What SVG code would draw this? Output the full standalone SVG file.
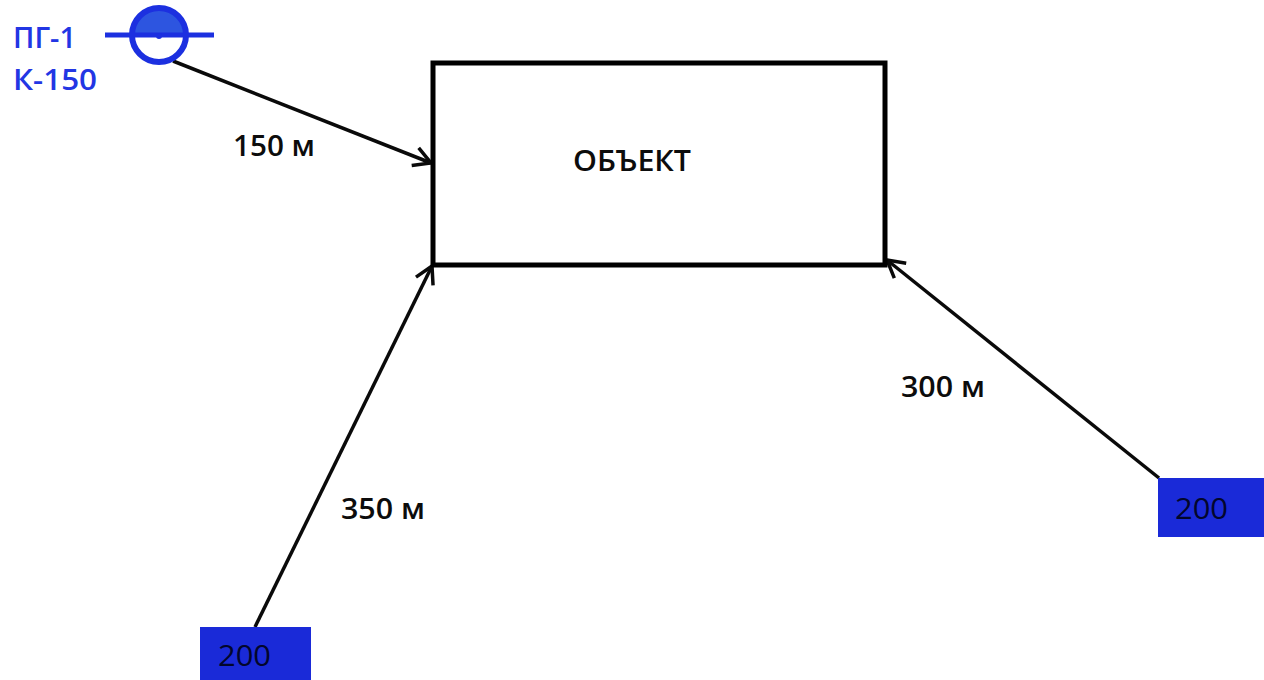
<svg xmlns="http://www.w3.org/2000/svg" width="1264" height="680" viewBox="0 0 1264 680">
<style>
text{font-family:"Open Sans","Noto Sans",sans-serif;font-size:29px;font-weight:600;fill:#0c0c0c}
.b{fill:#2236e4}
.n{font-weight:400;fill:#02062c}
.c{fill:none;stroke:#0a0a0a;stroke-width:3.5}
.box{fill:#1a2ad8}
</style>
<defs>
<marker id="a" markerUnits="userSpaceOnUse" markerWidth="28" markerHeight="28" refX="22" refY="14" orient="auto">
<path d="M5 4.5L22 14L5 23.5" fill="none" stroke="#0a0a0a" stroke-width="3.5"/>
</marker>
</defs>
<rect width="1264" height="680" fill="#fff"/>
<g id="connectors">
<line class="c" x1="173" y1="61" x2="431" y2="163" marker-end="url(#a)"/>
<line class="c" x1="255" y1="627" x2="432" y2="266" marker-end="url(#a)"/>
<line class="c" x1="1159" y1="478" x2="887" y2="260" marker-end="url(#a)"/>
</g>
<g id="object">
<rect x="433" y="63" width="452" height="202" fill="none" stroke="#000" stroke-width="5"/>
<text x="573" y="171" textLength="118" lengthAdjust="spacingAndGlyphs">ОБЪЕКТ</text>
</g>
<g id="hydrant">
<path d="M132 35A27 27 0 0 1 186 35Z" fill="#2d55e0"/>
<circle cx="159" cy="35" r="27" fill="none" stroke="#1c30e0" stroke-width="6"/>
<line x1="105" y1="35" x2="214" y2="35" stroke="#1c30e0" stroke-width="5"/>
<circle cx="159" cy="36" r="3" fill="#1c30e0"/>
<text class="b" x="13" y="48" textLength="63" lengthAdjust="spacingAndGlyphs">ПГ-1</text>
<text class="b" x="13" y="90" textLength="84" lengthAdjust="spacingAndGlyphs">К-150</text>
</g>
<g id="label-150"><text x="233" y="156" textLength="82" lengthAdjust="spacingAndGlyphs">150 м</text></g>
<g id="label-350"><text x="341" y="519" textLength="84" lengthAdjust="spacingAndGlyphs">350 м</text></g>
<g id="label-300"><text x="901" y="397" textLength="84" lengthAdjust="spacingAndGlyphs">300 м</text></g>
<g id="source-left">
<rect class="box" x="200" y="627" width="111" height="53"/>
<text class="n" x="218" y="666" textLength="53" lengthAdjust="spacingAndGlyphs">200</text>
</g>
<g id="source-right">
<rect class="box" x="1158" y="478" width="106" height="59"/>
<text class="n" x="1175" y="519" textLength="53" lengthAdjust="spacingAndGlyphs">200</text>
</g>
</svg>
